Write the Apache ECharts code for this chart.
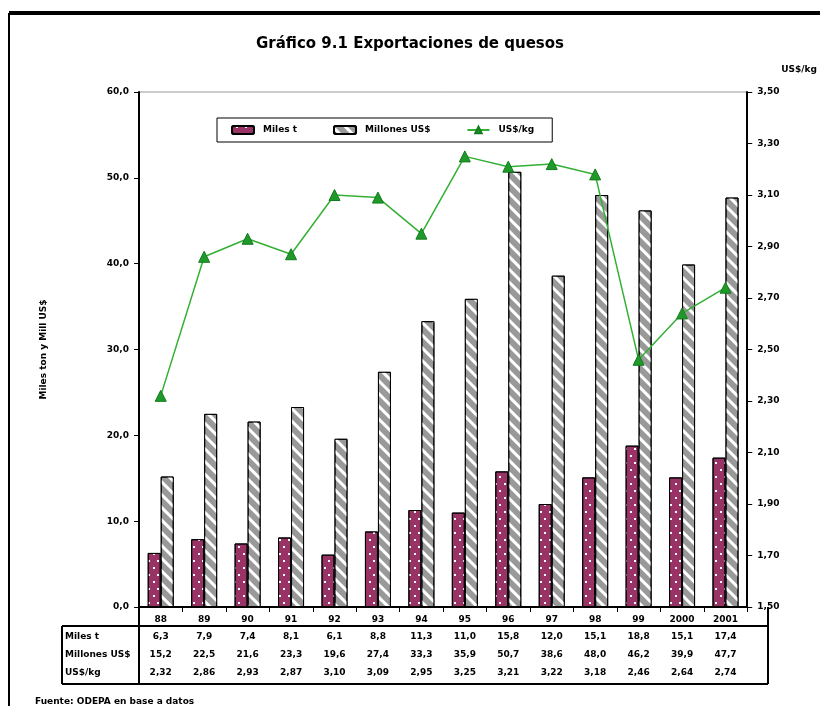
<!DOCTYPE html>
<html>
<head>
<meta charset="utf-8">
<script src="https://cdn.jsdelivr.net/npm/echarts@6/dist/echarts.min.js"></script>
<style>
  html, body { margin: 0; padding: 0; background: #fff; }
  #chart { width: 820px; height: 706px; }
</style>
</head>
<body>
<div id="chart"></div>
<script>
const years = ['88', '89', '90', '91', '92', '93', '94', '95', '96', '97', '98', '99', '2000', '2001']
const milesTon = [6.3, 7.9, 7.4, 8.1, 6.1, 8.8, 11.3, 11.0, 15.8, 12.0, 15.1, 18.8, 15.1, 17.4]
const millonesUsd = [15.2, 22.5, 21.6, 23.3, 19.6, 27.4, 33.3, 35.9, 50.7, 38.6, 48.0, 46.2, 39.9, 47.7]
const usdKg = [2.32, 2.86, 2.93, 2.87, 3.10, 3.09, 2.95, 3.25, 3.21, 3.22, 3.18, 2.46, 2.64, 2.74]
const rowNames = ['Miles t', 'Millones US$', 'US$/kg']

const FONT = 'DejaVu Sans'
const comma = (v, d) => v.toFixed(d).replace('.', ',')

// row axes of the data table under the plot
function tableAxis(values, digits, offset) {
  return {
    type: 'category',
    gridIndex: 0,
    position: 'bottom',
    offset: offset,
    data: years,
    axisLine: { show: false },
    axisTick: { show: false },
    axisLabel: {
      margin: 8,
      interval: 0,
      fontFamily: FONT,
      fontSize: 9,
      fontWeight: 'bold',
      color: '#000',
      formatter: (v, i) => comma(values[i], digits)
    }
  }
}

const chart = echarts.init(document.getElementById('chart'))

const option = {
  backgroundColor: '#fff',
  animation: false,
  title: {
    text: 'Gráfico 9.1 Exportaciones de quesos',
    left: 'center',
    top: 32,
    textStyle: { fontFamily: FONT, fontSize: 15, fontWeight: 'bold', color: '#000' }
  },
  legend: {
    left: 217,
    top: 118,
    orient: 'horizontal',
    borderColor: '#000',
    borderWidth: 1,
    padding: [7, 18, 7, 14],
    itemGap: 36,
    itemWidth: 22,
    itemHeight: 8,
    textStyle: { fontFamily: FONT, fontSize: 9, fontWeight: 'bold', color: '#000', padding: [0, 0, 0, 4] },
    data: ['Miles t', 'Millones US$', 'US$/kg']
  },
  grid: {
    left: 139,
    right: 52,
    top: 92,
    bottom: 99,
    show: true,
    borderColor: '#999',
    borderWidth: 1
  },
  xAxis: [
    {
      type: 'category',
      data: years,
      axisLine: { lineStyle: { color: '#000', width: 2 } },
      axisTick: { show: true, length: 5, lineStyle: { color: '#000' } },
      axisLabel: {
        margin: 8,
        interval: 0,
        fontFamily: FONT,
        fontSize: 9,
        fontWeight: 'bold',
        color: '#000'
      }
    },
    tableAxis(milesTon, 1, 17.5),
    tableAxis(millonesUsd, 1, 35.5),
    tableAxis(usdKg, 2, 53.5)
  ],
  yAxis: [
    {
      type: 'value',
      min: 0,
      max: 60,
      interval: 10,
      name: 'Miles ton y Mill US$',
      nameLocation: 'middle',
      nameGap: 91,
      nameRotate: 90,
      nameTextStyle: { fontFamily: FONT, fontSize: 9, fontWeight: 'bold', color: '#000' },
      axisLine: { show: true, lineStyle: { color: '#000', width: 2 } },
      axisTick: { show: true, length: 5, lineStyle: { color: '#000' } },
      splitLine: { show: false },
      axisLabel: {
        margin: 10,
        fontFamily: FONT,
        fontSize: 9,
        fontWeight: 'bold',
        color: '#000',
        formatter: v => comma(v, 1)
      }
    },
    {
      type: 'value',
      position: 'right',
      min: 1.5,
      max: 3.5,
      interval: 0.2,
      name: 'US$/kg',
      nameLocation: 'end',
      nameGap: 18,
      nameTextStyle: {
        fontFamily: FONT, fontSize: 9, fontWeight: 'bold', color: '#000',
        align: 'left', padding: [0, 0, 0, 34]
      },
      axisLine: { show: true, lineStyle: { color: '#000', width: 2 } },
      axisTick: { show: true, length: 5, lineStyle: { color: '#000' } },
      splitLine: { show: false },
      axisLabel: {
        margin: 10,
        fontFamily: FONT,
        fontSize: 9,
        fontWeight: 'bold',
        color: '#000',
        formatter: v => comma(v, 2)
      }
    }
  ],
  series: [
    {
      name: 'Miles t',
      type: 'bar',
      data: milesTon,
      barWidth: 13,
      barGap: '0%',
      itemStyle: {
        color: '#993366',
        borderColor: '#000',
        borderWidth: 1,
        decal: {
          symbol: 'rect',
          symbolSize: 1,
          color: '#fff',
          dashArrayX: [[1.5, 6.5], [0, 4, 1.5, 2.5]],
          dashArrayY: [1.5, 4.5]
        }
      }
    },
    {
      name: 'Millones US$',
      type: 'bar',
      data: millonesUsd,
      barWidth: 13,
      itemStyle: {
        color: '#999999',
        borderColor: '#000',
        borderWidth: 1,
        decal: {
          symbol: 'rect',
          symbolSize: 1,
          color: '#fff',
          dashArrayX: [1, 0],
          dashArrayY: [3, 6],
          rotation: Math.PI / 4
        }
      }
    },
    {
      name: 'US$/kg',
      type: 'line',
      yAxisIndex: 1,
      data: usdKg,
      symbol: 'triangle',
      symbolSize: 11,
      lineStyle: { color: '#33b033', width: 1.5 },
      itemStyle: { color: '#1f9a2a', borderColor: '#137a1e', borderWidth: 1 },
      z: 5
    }
  ],
  graphic: [
    // outer frame
    { type: 'line', shape: { x1: 9, y1: 13, x2: 820, y2: 13 }, style: { stroke: '#000', lineWidth: 4 } },
    { type: 'line', shape: { x1: 9, y1: 13, x2: 9, y2: 706 }, style: { stroke: '#000', lineWidth: 2 } },
    // data table
    { type: 'line', shape: { x1: 62, y1: 626, x2: 768, y2: 626 }, style: { stroke: '#000', lineWidth: 2 } },
    { type: 'line', shape: { x1: 62, y1: 684, x2: 768, y2: 684 }, style: { stroke: '#000', lineWidth: 2 } },
    { type: 'line', shape: { x1: 62, y1: 626, x2: 62, y2: 684 }, style: { stroke: '#000', lineWidth: 2 } },
    { type: 'line', shape: { x1: 139, y1: 607, x2: 139, y2: 684 }, style: { stroke: '#000', lineWidth: 2 } },
    { type: 'line', shape: { x1: 768, y1: 607, x2: 768, y2: 684 }, style: { stroke: '#000', lineWidth: 2 } },
    {
      type: 'group',
      left: 65,
      top: 632,
      children: rowNames.map((t, i) => ({
        type: 'text',
        y: i * 18,
        style: { text: t, fontFamily: FONT, fontSize: 9, fontWeight: 'bold', fill: '#000' }
      }))
    },
    {
      type: 'text',
      left: 35,
      top: 697,
      style: { text: 'Fuente: ODEPA en base a datos', fontFamily: FONT, fontSize: 9, fontWeight: 'bold', fill: '#000' }
    }
  ]
}

chart.setOption(option)
</script>
</body>
</html>
